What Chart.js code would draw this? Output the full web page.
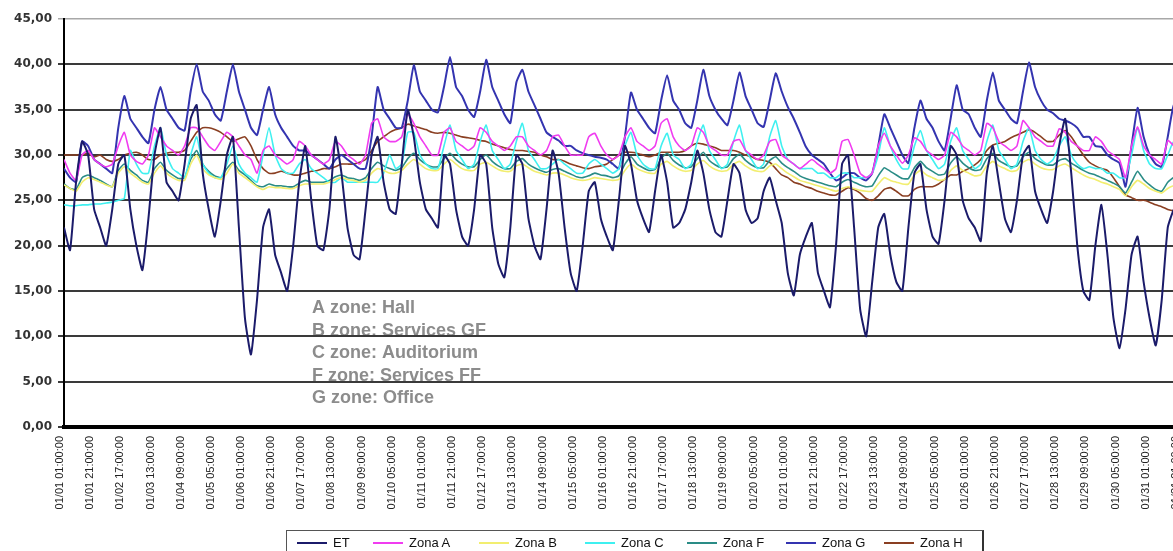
<!DOCTYPE html>
<html><head><meta charset="utf-8">
<script src="https://cdn.jsdelivr.net/npm/chart.js@4/dist/chart.umd.min.js"></script>
<style>
html,body{margin:0;padding:0;background:#fff;overflow:hidden;width:1173px;height:551px;}
#wrap{position:relative;width:1173px;height:551px;overflow:hidden;}
canvas{position:absolute;left:0;top:0;}
#legend{position:absolute;left:286px;top:530px;width:698px;height:30px;border:1px solid #555;border-right:2px solid #333;box-sizing:border-box;font:13px Arial, "Liberation Sans", sans-serif;color:#111;}
.item{position:absolute;top:4px;white-space:nowrap;}
.item span.s{display:inline-block;width:30px;height:0;border-top:2px solid #000;vertical-align:middle;margin-right:6px;position:relative;top:-1px;}
</style></head>
<body><div id="wrap"><canvas id="c" width="1194" height="551"></canvas><div id="legend"></div></div>
<script>
const tickLabels = ['01/01 01:00:00','01/01 21:00:00','01/02 17:00:00','01/03 13:00:00','01/04 09:00:00','01/05 05:00:00','01/06 01:00:00','01/06 21:00:00','01/07 17:00:00','01/08 13:00:00','01/09 09:00:00','01/10 05:00:00','01/11 01:00:00','01/11 21:00:00','01/12 17:00:00','01/13 13:00:00','01/14 09:00:00','01/15 05:00:00','01/16 01:00:00','01/16 21:00:00','01/17 17:00:00','01/18 13:00:00','01/19 09:00:00','01/20 05:00:00','01/21 01:00:00','01/21 21:00:00','01/22 17:00:00','01/23 13:00:00','01/24 09:00:00','01/25 05:00:00','01/26 01:00:00','01/26 21:00:00','01/27 17:00:00','01/28 13:00:00','01/29 09:00:00','01/30 05:00:00','01/31 01:00:00','01/31 21:00:00'];
const tickStepHours = 20;
const sampleStepHours = 4; // values read at 01,05,09,13,17,21 h of each day
const seriesNames = ['ET','Zona A','Zona B','Zona C','Zona F','Zona G','Zona H'];
const notes = ['A zone: Hall','B zone: Services GF','C zone: Auditorium','F zone: Services FF','G zone: Office'];

const ET = [
22,19.5,27,31.5,30,24, 22,20,24,29,30,24, 20,17.3,23,30,33,27, 26,25,29,34,35.5,28,
24,21,25,30,32,22, 12,8,14,22,24,19, 17,15,20,27,31,25, 20,19.5,24,32,28,22,
19,18.5,24,30,32,27, 24,23.5,29,35,32,27, 24,23,22,30,29,24, 21,20,24,30,29,22,
18,16.5,22,30,29,23, 20,18.5,24,30.5,28,22, 17,15,20,26,27,23, 21,19.5,25,31,29,25,
23,21.5,26,30,27,22, 22.5,24,27,30.5,28,24, 21.5,21,25,29,28,24, 22.5,23,26,27.5,25,22.5,
17,14.5,19,21,22.5,17, 15,13.2,20,29,30,22, 13,10,16,22,23.5,19, 16,15,22,28,29,24,
21,20.2,25,31,30,25, 23,22,20.5,28,31,27, 23,21.5,25,30,31,26, 24,22.5,26,31,34,28,
20,15,14,20,24.5,19, 12,8.7,13,19,21,16, 12,9,14,22,24,25];

const zonaA = [
29.5,28,27.2,30,30.5,29.5, 29,28.7,29,31,32.5,30, 29.3,29,30,33,32,31, 30.5,30,31,33,33,32,
31,30.5,31.5,32.5,32,31, 30,29.5,28,30.5,31,30, 29.5,29,29.5,31.5,31,30, 29.5,29,29.5,31.5,31,30,
29.5,29,30,33.5,34,32, 31.5,31.5,32,34.5,33.5,32, 31,30,30,32.5,33,31.5, 31,30.5,31,33,32.5,31.5,
31,30.5,31,32,32,31, 30.5,30,30.5,32,32.2,31, 30,30,30,32,32.4,31, 30,29.5,30,32,33,31.5,
31,30.5,31,33.5,34,32, 31,30.5,31,33,32.5,31, 30.5,30,30,31.5,31.7,30.5, 30,29.5,30,31.5,31.7,30,
29.5,29,28.5,29,29.5,29, 28.5,28,28.5,31.5,31.7,30, 28,27.5,28,31,32.4,31, 30,29.1,30,31.9,31.5,30.5,
30,29.5,30,32.5,32,31, 30.5,30,30.5,33.5,33,31.5, 31,30.5,31,33.8,33,32, 31.5,31,31,32.9,32.5,31.5,
31,30.5,30.5,32,31.5,30.5, 30,29.5,27.5,31,33.1,31, 30,29.5,29,31.6,31,30];

const zonaB = [
26.7,26.3,26,27,27.5,27.3, 27,26.7,26.5,28,28.7,28, 27.5,27,26.8,28,28.8,28, 27.5,27.2,27.2,29,30,28.5,
27.8,27.5,27.3,28,29,28, 27.5,27,26.5,26.2,26.5,26.4, 26.4,26.3,26.3,26.6,26.8,26.8, 26.8,26.8,27,27.3,27.5,27.3,
27.2,27,27.2,28,28.5,28.3, 28,28,28.3,29,29.5,29, 28.5,28.3,28.3,29,29.5,29, 28.5,28.3,28.3,29,29.2,28.8,
28.4,28.2,28.2,28.8,29,28.6, 28.2,28,27.8,28,28,27.8, 27.5,27.3,27.2,27.3,27.5,27.4, 27.3,27.2,27.3,28.3,29,28.5,
28.2,28,28,29,29.3,28.8, 28.4,28.2,28.3,29,29.4,28.8, 28.4,28.2,28.3,29,29.3,28.8, 28.4,28.2,28.2,28.8,29,28.5,
28,27.6,27.2,27,26.8,26.6, 26.4,26.2,26,26.3,26.5,26.3, 26.1,26,26,26.8,27.5,27.2, 27,26.8,26.8,27.8,28.3,27.8,
27.5,27.2,27.3,28.3,28.8,28.3, 28,27.7,27.8,28.8,29.3,28.8, 28.5,28.2,28.3,29.2,29.5,29, 28.6,28.4,28.4,28.8,29,28.6,
28.2,27.8,27.5,27.3,27,26.8, 26.5,26.2,25.5,26.5,27.2,26.8, 26.3,26,25.8,26.3,26.6,26.2];

const zonaC = [
24.5,24.4,24.4,24.5,24.5,24.6, 24.6,24.7,24.8,25,25.2,30.5, 29,28,28,31,33,30, 28.5,28,27.5,30,32,29,
28,27.5,27.5,29,31,29, 28,27.5,27,30,33,30, 28.5,28,28,29,29.5,28.5, 28,27.5,27,27,27.5,27,
27,27,27,27,27,28, 30,28.5,29,32.5,32.5,30, 29,28.5,28.5,31,33.3,30.5, 29.5,28.5,29,31.5,33.3,30.5,
29.5,28.5,29,31.5,33.5,30.5, 29.5,28.5,28.5,29,29.5,29, 28.5,28,28,29,29.5,29, 28.5,28,28.5,31,32.5,30,
29,28.5,28.5,31,32.4,30, 29.5,28.5,29,31.5,33.3,30.5, 29.5,28.5,29,31.5,33.3,30.5, 29.5,28.5,29,32,33.8,31,
29.5,29,28.5,28.5,28.5,28, 28,27.5,27.5,28,28,27.5, 27.5,27.5,28,30,33,31, 29.5,28.5,28.5,31,32.7,30.5,
29.5,28.5,29,31.5,33,30.5, 29.5,28.5,29,31.5,33.3,30.5, 29.5,28.5,29,31.5,33,30.5, 29.5,29,29.5,31,32,30,
29,28.5,28.7,28.5,28.5,28, 28,27.5,27.5,30,33,30.5, 29,28.5,28.5,30,31.5,30];

const zonaF = [
26.8,26.3,26.2,27.5,27.8,27.5, 27.2,26.8,26.5,28.3,29,28.3, 27.8,27.2,27,28.5,29.2,28.3, 27.8,27.4,27.5,29.5,30.5,29,
28.2,27.7,27.5,28.5,29.2,28.3, 27.8,27.2,26.6,26.5,26.8,26.6, 26.6,26.5,26.5,26.9,27.2,27, 27,27,27.2,27.6,27.8,27.5,
27.4,27.2,27.5,28.5,29.2,28.8, 28.5,28.3,28.6,29.6,30.2,29.5, 29,28.7,28.7,29.6,30.2,29.5, 29,28.7,28.7,29.5,30,29.3,
28.8,28.5,28.5,29.3,29.6,29, 28.6,28.3,28.1,28.4,28.5,28.2, 27.9,27.6,27.5,27.7,28,27.8, 27.7,27.5,27.7,29,29.8,29,
28.6,28.3,28.4,29.6,30.2,29.4, 28.9,28.6,28.7,29.6,30.3,29.4, 28.9,28.6,28.7,29.6,30.1,29.4, 28.9,28.6,28.6,29.4,29.8,29.1,
28.6,28.2,27.7,27.4,27.2,27, 26.8,26.6,26.5,27,27.3,27, 26.7,26.5,26.6,27.7,28.6,28.2, 27.8,27.4,27.4,28.6,29.3,28.6,
28.2,27.8,27.9,29.1,29.8,29.1, 28.6,28.3,28.4,29.6,30.2,29.4, 29,28.7,28.8,29.8,30.3,29.6, 29.2,28.9,28.9,29.4,29.6,29.1,
28.7,28.3,28,27.8,27.5,27.2, 26.9,26.5,25.8,27,28.2,27.3, 26.7,26.2,26,27,27.5,26.8];

const zonaG = [
28.5,27.5,27,31.5,31,29.5, 29,28.5,28,33,36.5,34, 33,32,31.3,35,37.5,35, 34,33,32.7,37,40,37,
36,34.5,33.8,37,40,37, 35,33,32.2,35,37.5,34.5, 33,32,31,30.5,30.5,30, 29.5,29,28.5,29.5,30,29.5,
29,28.5,28.5,32,37.5,35, 34,33,33,36,39.9,37, 36,35,34.7,37.5,40.8,37.5, 36.5,35,34.2,37,40.5,37.5,
36,34.5,33.5,38,39.4,37, 35.5,34,32.5,32,31.6,31, 31,30.5,30.2,30,29.8,29.7, 29.5,29,28.5,32,36.9,35,
34,33,32.4,36,38.8,36, 35,33.5,33,36,39.4,36.5, 35,34,33.3,36,39.1,36.5, 35,33.5,33.1,36,39,37,
35.3,34,32.5,30.9,30,29.5, 29,28,27.2,27.5,28,28, 27.5,27.2,28,31,34.5,33, 31.5,30,29.1,33,36,34,
33,31.5,30.5,34,37.7,35, 34.5,33,32,36,39.1,36, 35,34,33.5,37,40.2,37.5, 36,35,34.6,34,33.8,33.5,
33,32,32,31,30.9,30, 29.5,29.1,26.5,31,35.2,32, 30,29,28.7,32,35.5,35];

const zonaH = [
30,30,30,30,30.2,29.8, 30,29.5,29.3,29.5,30,30.2, 30.3,30,29.5,29.5,30,30.2, 30.3,30.3,30.5,31.5,32.5,33,
33,32.8,32.5,32,31.5,31.8, 32,31,29.5,28.5,28,28, 28.2,28,27.8,27.8,28,28.2, 28.3,28.5,28.5,28.7,29,29,
29,29.2,29.5,30.5,31.5,32, 32.5,32.8,33,33.4,33.2,33, 32.8,32.5,32.4,32.5,32.4,32.2, 32,31.9,31.8,31.6,31.5,31.2,
31,30.8,30.6,30.5,30.5,30.4, 30.3,30,29.8,29.5,29.5,29.3, 29,28.8,28.6,28.5,28.7,28.8, 29,29.5,30,30.3,30.3,30.2,
30,29.8,30,30.3,30.3,30.3, 30.3,30.5,31,31.3,31.2,31, 30.8,30.5,30.5,30.5,30.3,30, 29.8,29.5,29.4,29.2,28.5,27.8,
27.5,27,26.8,26.5,26.3,26, 25.8,25.6,25.6,26,26.4,26.2, 25.8,25.2,25,25.5,26.2,26.4, 26,25.5,25.5,26.2,26.5,26.5,
26.5,26.8,27.3,27.8,27.8,28.2, 28.5,28.9,29.5,30.5,31.1,31.3, 31.5,31.9,32.2,32.5,32.8,32.5, 32,31.5,31.5,32.2,32.7,32,
31,30,29.2,28.8,28.5,28.3, 27.5,26.5,25.6,25.3,25,25, 24.8,24.5,24.3,24,23.8,23.5];

const seriesValues = [ET, zonaA, zonaB, zonaC, zonaF, zonaG, zonaH];
const seriesColors = ['#1b1b6a','#f03cf0','#f2ee70','#3ff0f0','#2a8c86','#3434b0','#8a3f22'];
const seriesWidths = [2, 1.6, 1.6, 1.6, 1.6, 2, 1.6];

const toPoints = arr => arr.map((v, i) => ({x: i * sampleStepHours, y: v}));

const notesPlugin = {
  id: 'notes',
  beforeDraw(chart) {
    const ctx = chart.ctx;
    ctx.save();
    ctx.font = 'bold 18px Arial, "Liberation Sans", sans-serif';
    ctx.fillStyle = '#8c8c8c';
    ctx.textBaseline = 'alphabetic';
    notes.forEach((t, i) => ctx.fillText(t, 312, 313 + i * 22.5));
    ctx.restore();
  }
};

const chart = new Chart(document.getElementById('c'), {
  type: 'line',
  data: {
    datasets: seriesNames.map((n, k) => ({
      label: n,
      data: toPoints(seriesValues[k]),
      borderColor: seriesColors[k],
      backgroundColor: seriesColors[k],
      borderWidth: seriesWidths[k],
      pointRadius: 0,
      tension: 0.15,
      fill: false
    }))
  },
  options: {
    responsive: false,
    animation: false,
    events: [],
    layout: { padding: { top: 19, left: 0, right: 0, bottom: 0 } },
    plugins: { legend: { display: false }, tooltip: { enabled: false } },
    scales: {
      x: {
        type: 'linear',
        min: 0,
        max: (tickLabels.length - 1) * tickStepHours,
        afterBuildTicks: s => { s.ticks = tickLabels.map((_, k) => ({ value: k * tickStepHours })); },
        afterFit: s => { s.height = 124; },
        grid: { display: false },
        border: { display: true, color: '#000', width: 4 },
        ticks: {
          autoSkip: false, maxRotation: 90, minRotation: 90, padding: 1, labelOffset: -4,
          color: '#222', font: { family: 'Arial, "Liberation Sans", sans-serif', size: 11 },
          callback: v => tickLabels[Math.round(v / tickStepHours)]
        }
      },
      y: {
        min: 0, max: 45,
        afterFit: s => { s.width = 64; },
        grid: {
          color: ctx => ctx.tick && ctx.tick.value === 45 ? '#a8a8a8' : '#3a3a3a',
          lineWidth: ctx => ctx.tick && ctx.tick.value === 45 ? 1.5 : 2,
          tickLength: 6
        },
        border: { display: true, color: '#000', width: 2 },
        ticks: {
          stepSize: 5, padding: 6, color: '#333',
          font: { family: '"DejaVu Sans", Verdana, sans-serif', size: 12, weight: 'bold' },
          callback: v => v.toFixed(2).replace('.', ',')
        }
      }
    }
  },
  plugins: [notesPlugin]
});

// legend (HTML)
const legendX = [10, 86, 192, 298, 400, 499, 597];
const lg = document.getElementById('legend');
seriesNames.forEach((n, k) => {
  const d = document.createElement('div');
  d.className = 'item';
  d.style.left = legendX[k] + 'px';
  d.innerHTML = '<span class="s" style="border-top-color:' + seriesColors[k] + '"></span>' + n;
  lg.appendChild(d);
});
</script></body></html>
